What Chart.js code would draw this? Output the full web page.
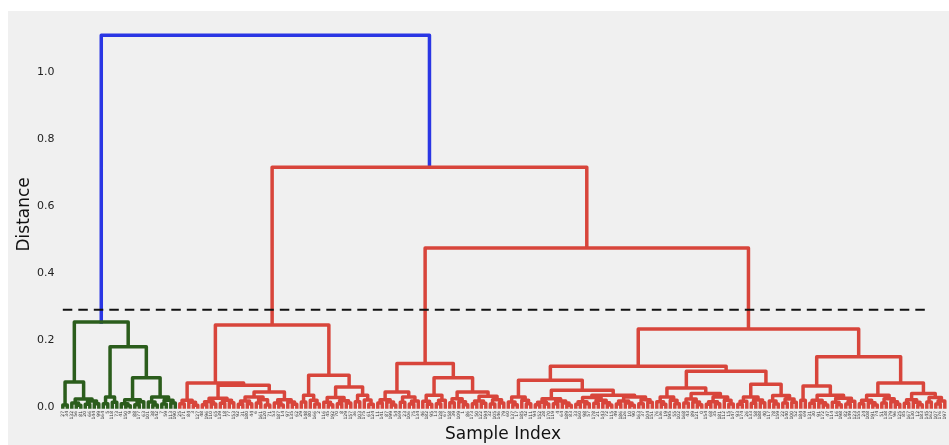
<!DOCTYPE html>
<html>
<head>
<meta charset="utf-8">
<script src="https://cdn.jsdelivr.net/npm/chart.js@4.4.1/dist/chart.umd.min.js"></script>
<style>
body { margin: 0; background: #fff; }
#box { position: absolute; left: 8px; top: 11px; width: 941px; height: 434px; background: #f0f0f0; }
</style>
</head>
<body>
<div id="box"><canvas id="mycanvas" width="941" height="434"></canvas></div>
<script>
// dendrogram nodes: [merge distance, left, right]; plain numbers are sample ids (leaves)
var greenLeft = [0.075, [0.006, 27, 34],
  [0.024, [0.012, 132, [0.005, 56, 81]], [0.018, [0.008, 20, 66], [0.01, 144, 99]]]];
var greenRight = [0.18, [0.03, [0.01, 164, 5], [0.014, 118, 73]],
  [0.087, [0.022, [0.01, 41, [0.004, 150, 9]], [0.016, [0.007, 88, 177], 63]],
    [0.03, [0.015, 101, [0.006, 38, 142]], [0.02, [0.009, 7, 59], [0.012, 113, 190]]]]];

var redLeft = [0.245,
  [0.072, [0.02, [0.01, 25, 171], [0.014, 84, [0.005, 3, 127]]],
    [0.065, [0.026, [0.016, [0.007, 48, 196], [0.009, 110, 65]], [0.02, [0.011, 139, 18], [0.013, 77, 153]]],
      [0.045, [0.03, [0.018, [0.008, 92, 31], [0.01, 180, 44]], [0.022, [0.012, 6, 161], [0.006, 120, 71]]],
        [0.022, [0.012, 53, [0.006, 187, 14]], [0.015, 97, [0.008, 135, 62]]]]]],
  [0.095, [0.035, [0.015, 29, 148], [0.02, 80, [0.009, 166, 2]]],
    [0.06, [0.028, [0.014, 116, [0.007, 45, 192]], [0.019, [0.01, 70, 8], [0.012, 129, 157]]],
      [0.035, [0.016, 36, 103], [0.021, 175, [0.008, 61, 124]]]]]];

var redMid = [0.13,
  [0.045, [0.022, [0.012, 11, 141], [0.015, 87, [0.006, 199, 54]]], [0.03, [0.014, 169, 23], [0.018, [0.009, 106, 75], 134]]],
  [0.087, [0.035, [0.017, 46, [0.008, 182, 95]], [0.02, [0.01, 13, 128], 67]],
    [0.045, [0.025, [0.013, 158, 39], [0.016, 109, [0.007, 1, 86]]],
      [0.032, [0.018, [0.01, 173, 50], [0.011, 122, 194]], [0.022, [0.009, 32, 105], [0.012, 146, 79]]]]]];

var redRightA = [0.122,
  [0.08, [0.03, [0.015, 60, [0.007, 137, 17]], [0.02, 185, [0.01, 42, 111]]],
    [0.05, [0.025, [0.014, [0.007, 94, 152], [0.009, 28, 170]], [0.018, [0.01, 119, 4], [0.012, 64, [0.005, 189, 83]]]],
      [0.035, [0.028, [0.016, [0.008, 33, 160], [0.01, 98, 57]], [0.02, [0.011, 178, 21], [0.013, 143, [0.006, 72, 115]]]],
        [0.03, [0.018, [0.009, 49, 186], [0.012, 126, [0.005, 10, 90]]], [0.022, [0.01, 163, 37], [0.014, 104, 151]]]]]],
  [0.107,
    [0.057, [0.03, [0.016, 76, [0.008, 136, 19]], [0.02, 195, [0.01, 55, 102]]],
      [0.04, [0.024, [0.012, 168, 43], [0.015, 89, [0.007, 121, 0]]],
        [0.03, [0.016, [0.008, 154, 68], [0.01, 35, 181]], [0.02, 112, [0.009, 15, 147]]]]],
    [0.068, [0.03, [0.017, [0.008, 93, 174], 26], [0.021, [0.011, 133, 58], [0.013, 188, 40]]],
      [0.034, [0.018, 117, [0.009, 78, 159]], [0.024, [0.012, 22, 140], [0.014, 100, 52]]]]]];

var redRightB = [0.15,
  [0.063, [0.02, 184, 69],
    [0.035, [0.02, [0.011, 131, 30], [0.013, 91, [0.006, 172, 47]]], [0.026, [0.014, 114, [0.007, 16, 198]], [0.017, [0.009, 82, 149], 123]]]],
  [0.072, [0.035, [0.02, [0.01, 155, 24], [0.013, 108, [0.006, 191, 74]]], [0.025, [0.012, 51, 138], [0.016, 179, [0.008, 96, 125]]]],
    [0.04, [0.022, [0.011, 85, 167], [0.014, 130, [0.007, 12, 183]]], [0.028, [0.015, 145, 162], [0.018, [0.009, 107, 176], 197]]]]];

var tree = [1.11, [0.254, greenLeft, greenRight],
  [0.716, redLeft, [0.475, redMid, [0.233, redRightA, redRightB]]]];

var cutHeight = 0.29;
var cutSpan = [0.0, 191.6];
var yTicks = [0, 0.2, 0.4, 0.6, 0.8, 1.0];
var clusterColors = ['#2b5d1c', '#d8453b'];
var aboveColor = '#2a36e4';

// color like scipy: clusters below 0.7*max get their own color
var colorThreshold = 0.7 * tree[0];
var nextColor = 0;
function paint(node, color) {
  if (!Array.isArray(node)) return;
  if (!color && node[0] < colorThreshold) color = clusterColors[nextColor++];
  node.color = color || aboveColor;
  paint(node[1], color);
  paint(node[2], color);
}
paint(tree, null);

var leafOrder = [];
var links = [];
function walk(node) {
  if (!Array.isArray(node)) {
    leafOrder.push(node);
    return { x: leafOrder.length - 1, y: 0 };
  }
  var a = walk(node[1]);
  var b = walk(node[2]);
  links.push({ x1: a.x, y1: a.y, x2: b.x, y2: b.y, h: node[0], color: node.color });
  return { x: (a.x + b.x) / 2, y: node[0] };
}
walk(tree);

var groups = {};
var order = [];
links.forEach(function(l) {
  if (!groups[l.color]) { groups[l.color] = []; order.push(l.color); }
  groups[l.color].push({x: l.x1, y: l.y1}, {x: l.x1, y: l.h}, {x: l.x2, y: l.h}, {x: l.x2, y: l.y2}, {x: l.x2, y: null});
});

var datasets = [{
  data: [{x: cutSpan[0], y: cutHeight}, {x: cutSpan[1], y: cutHeight}],
  borderColor: '#111',
  borderWidth: 2,
  borderDash: [9.5, 6],
  order: 0
}];
order.forEach(function(c) {
  datasets.push({
    data: groups[c],
    borderColor: c,
    borderWidth: 3.5,
    borderJoinStyle: 'round',
    borderCapStyle: 'square',
    order: 1
  });
});
datasets.forEach(function(d) {
  d.showLine = true;
  d.pointRadius = 0;
  d.spanGaps = false;
  d.clip = false;
});

var ctx = document.getElementById('mycanvas');
var chart = new Chart(ctx, {
  type: 'scatter',
  data: { datasets: datasets },
  options: {
    responsive: false,
    animation: false,
    layout: { padding: { top: 10.75, right: 0.5, left: 0, bottom: 0 } },
    plugins: { legend: { display: false }, tooltip: { enabled: false } },
    scales: {
      x: {
        type: 'linear',
        min: -1.178,
        max: 196.82,
        grid: { display: false, drawTicks: false },
        border: { display: false },
        afterBuildTicks: function(scale) {
          scale.ticks = leafOrder.map(function(id, i) { return { value: i }; });
        },
        afterFit: function(scale) {
          scale.height = 38;
          scale.paddingLeft = 0;
          scale.paddingRight = 0;
        },
        ticks: {
          autoSkip: false,
          minRotation: 90,
          maxRotation: 90,
          padding: 4,
          color: '#333',
          font: { family: 'DejaVu Sans', size: 4.5 },
          callback: function(value, index) { return String(leafOrder[index]); }
        },
        title: {
          display: true,
          text: 'Sample Index',
          color: '#111',
          padding: { top: 0, bottom: 0 },
          font: { family: 'DejaVu Sans', size: 17 }
        }
      },
      y: {
        min: 0,
        max: 1.15,
        grid: { display: false, drawTicks: false },
        border: { display: false },
        afterBuildTicks: function(scale) {
          scale.ticks = yTicks.map(function(v) { return { value: v }; });
        },
        afterFit: function(scale) { scale.width = 49.5; },
        ticks: {
          padding: 3,
          color: '#222',
          font: { family: 'DejaVu Sans', size: 11 },
          callback: function(value) { return value.toFixed(1); }
        },
        title: {
          display: true,
          text: 'Distance',
          color: '#111',
          padding: { top: 6, bottom: 0 },
          font: { family: 'DejaVu Sans', size: 17 }
        }
      }
    }
  }
});
</script>
</body>
</html>
